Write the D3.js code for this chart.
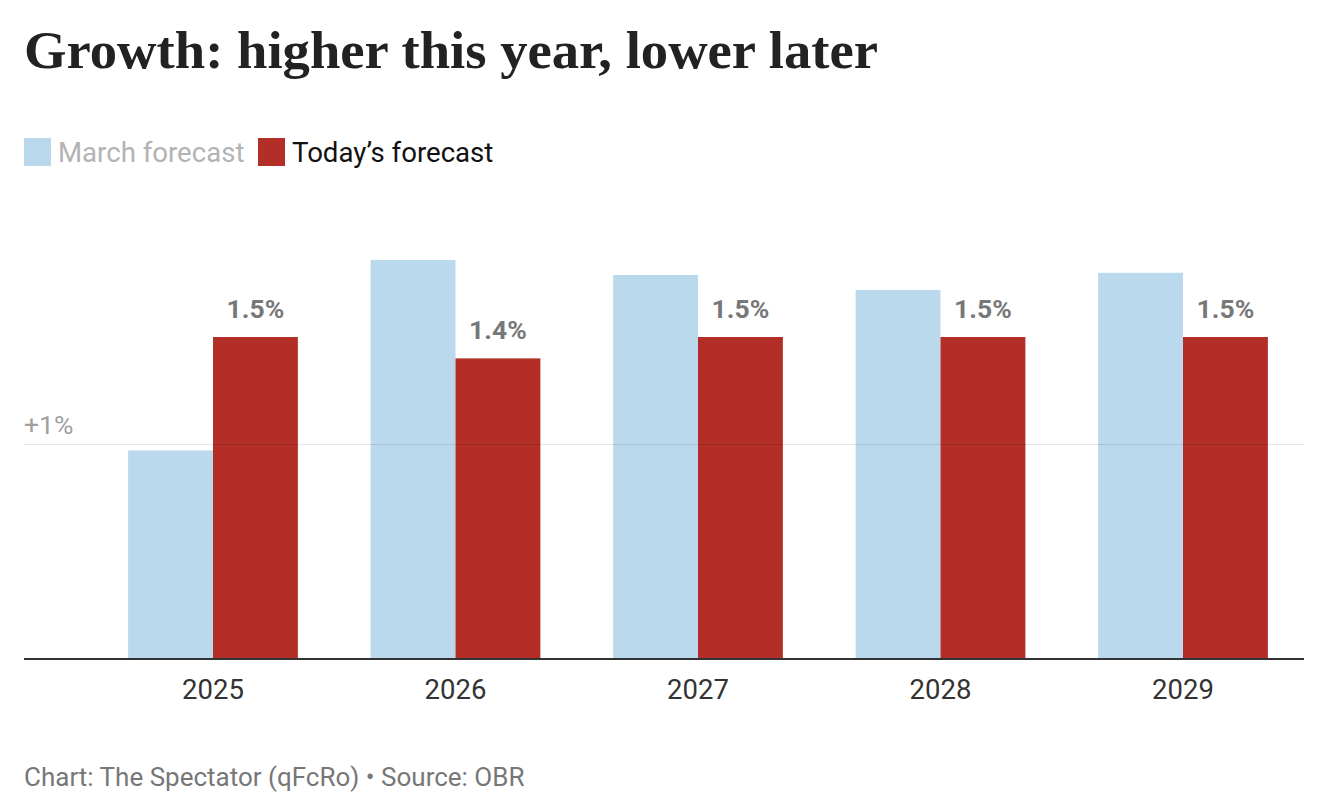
<!DOCTYPE html>
<html>
<head>
  <meta charset="utf-8">
  <title>Growth: higher this year, lower later</title>
  <script src="https://d3js.org/d3.v7.min.js"></script>
  <style>
    body { margin: 0; background: #fff; }
    svg text { font-family: Roboto, "Noto Sans", sans-serif; }
    .title { font-family: "Liberation Serif", "DejaVu Serif", serif !important; font-weight: bold; }
  </style>
</head>
<body>
  <svg id="chart" width="1334" height="808"></svg>
  <script>
    var years = ['2025', '2026', '2027', '2028', '2029'],
        march = [0.97, 1.86, 1.79, 1.72, 1.80],
        today = [1.5, 1.4, 1.5, 1.5, 1.5],
        seriesNames = ['March forecast', 'Today\u2019s forecast'],
        colors = ['#bbd9ed', '#b22e27'],
        yTicks = [1];

    var svg = d3.select('#chart');

    var x = d3.scaleBand()
        .domain(years)
        .range([91.75, 1304.25])
        .paddingInner(0.3)
        .paddingOuter(0.15);

    var xSub = d3.scaleBand()
        .domain([0, 1])
        .range([0, x.bandwidth()]);

    var y = d3.scaleLinear()
        .domain([0, 1])
        .range([658, 444]);

    // title
    svg.append('text')
        .attr('class', 'title')
        .attr('x', 24)
        .attr('y', 68)
        .attr('font-size', 52)
        .attr('fill', '#222')
        .attr('textLength', 854)
        .attr('lengthAdjust', 'spacingAndGlyphs')
        .text('Growth: higher this year, lower later');

    // legend
    var legendX = [24, 258];
    var legend = svg.append('g').selectAll('g')
        .data(seriesNames)
        .enter().append('g')
          .attr('transform', function(d, i) { return 'translate(' + legendX[i] + ',138)'; });

    legend.append('rect')
        .attr('width', 27)
        .attr('height', 28)
        .attr('fill', function(d, i) { return colors[i]; });

    legend.append('text')
        .attr('x', 34)
        .attr('y', 24)
        .attr('font-size', 27.6)
        .attr('fill', function(d, i) { return i == 0 ? '#b3b3b3' : '#111'; })
        .text(function(d) { return d; });

    // bars
    var groups = svg.append('g').selectAll('g')
        .data(years)
        .enter().append('g')
          .attr('transform', function(d) { return 'translate(' + x(d) + ',0)'; });

    groups.append('rect')
        .attr('x', xSub(0))
        .attr('width', xSub.bandwidth())
        .attr('y', function(d, i) { return y(march[i]); })
        .attr('height', function(d, i) { return y(0) - y(march[i]); })
        .attr('fill', colors[0]);

    groups.append('rect')
        .attr('x', xSub(1))
        .attr('width', xSub.bandwidth())
        .attr('y', function(d, i) { return y(today[i]); })
        .attr('height', function(d, i) { return y(0) - y(today[i]); })
        .attr('fill', colors[1]);

    groups.append('text')
        .attr('x', xSub(1) + xSub.bandwidth() / 2)
        .attr('y', function(d, i) { return y(today[i]) - 19; })
        .attr('text-anchor', 'middle')
        .attr('font-size', 26.5)
        .attr('font-weight', 'bold')
        .attr('fill', '#777')
        .text(function(d, i) { return today[i].toFixed(1) + '%'; });

    // gridline (drawn over bars, faint)
    var grid = svg.append('g');
    grid.selectAll('line')
        .data(yTicks)
        .enter().append('line')
          .attr('x1', 24)
          .attr('x2', 1304)
          .attr('y1', function(d) { return y(d) + 0.5; })
          .attr('y2', function(d) { return y(d) + 0.5; })
          .attr('stroke', '#000')
          .attr('stroke-opacity', 0.1);

    grid.selectAll('text')
        .data(yTicks)
        .enter().append('text')
          .attr('x', 24)
          .attr('y', function(d) { return y(d) - 10; })
          .attr('font-size', 26.5)
          .attr('fill', '#a0a0a0')
          .text(function(d) { return '+' + d + '%'; });

    // baseline and x axis
    svg.append('line')
        .attr('x1', 24)
        .attr('x2', 1304)
        .attr('y1', y(0) + 1)
        .attr('y2', y(0) + 1)
        .attr('stroke', '#333')
        .attr('stroke-width', 2);

    var xAxis = svg.append('g')
        .attr('transform', 'translate(0,' + (y(0) + 2) + ')')
        .call(d3.axisBottom(x).tickSize(0).tickPadding(19));
    xAxis.select('.domain').remove();
    xAxis.selectAll('text')
        .attr('font-family', 'Roboto, sans-serif')
        .attr('font-size', 27.5)
        .attr('fill', '#333');

    // footer
    svg.append('text')
        .attr('x', 24)
        .attr('y', 786)
        .attr('font-size', 26)
        .attr('fill', '#777')
        .text('Chart: The Spectator (qFcRo) \u2022 Source: OBR');
  </script>
</body>
</html>
